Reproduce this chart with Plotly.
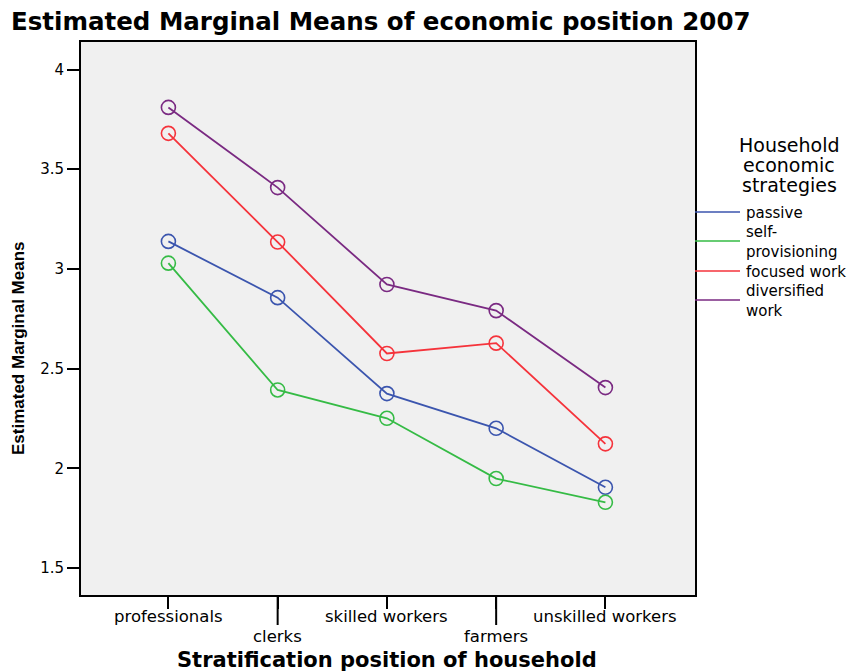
import plotly.graph_objects as go

categories = ["professionals", "clerks", "skilled workers", "farmers", "unskilled workers"]
passive = [3.138, 2.856, 2.375, 2.201, 1.905]
self_prov = [3.029, 2.393, 2.251, 1.949, 1.830]
focused = [3.680, 3.135, 2.576, 2.628, 2.123]
diversified = [3.810, 3.408, 2.922, 2.791, 2.405]
series_names = ["passive", "self-<br>provisioning", "focused work", "diversified<br>work"]
series_values = [passive, self_prov, focused, diversified]
colors = ["#3B55AE", "#35BB45", "#F5333B", "#7A2A82"]
y_ticks = [1.5, 2, 2.5, 3, 3.5, 4]
y_tick_text = ["1.5", "2", "2.5", "3", "3.5", "4"]
legend_title = ["Household", "economic", "strategies"]

FONT = "DejaVu Sans, Liberation Sans, Arial, sans-serif"
FONT_Y = "Liberation Sans Narrow, Arial Narrow, Liberation Sans, Arial, sans-serif"
x_idx = list(range(len(categories)))

W, H = 861, 672
ML, MR, MT, MB = 81, 166, 42, 77
plot_h = H - MT - MB
plot_w = W - ML - MR


def py(px):
    """pixel y (from top) -> paper y"""
    return (H - MB - px) / plot_h


def pxx(px):
    return (px - ML) / plot_w


fig = go.Figure()
for name, vals, col in zip(series_names, series_values, colors):
    fig.add_trace(go.Scatter(
        x=x_idx, y=vals, mode="lines+markers", name=name,
        line=dict(color=col, width=1.8),
        marker=dict(symbol="circle-open", size=14, color=col, line=dict(width=1.6, color=col)),
        showlegend=False,
    ))

fig.update_layout(
    width=W, height=H,
    margin=dict(l=ML, r=MR, t=MT, b=MB),
    paper_bgcolor="white", plot_bgcolor="#f0f0f0",
    font=dict(family=FONT, color="black", size=14),
    title=dict(text="<b>Estimated Marginal Means of economic position 2007</b>",
               x=11/W, xanchor="left", y=1-21/H, yanchor="middle",
               font=dict(size=24.5, family=FONT, color="black")),
)
fig.update_xaxes(
    range=[-0.8, 4.82], tickmode="array", tickvals=x_idx, showticklabels=False,
    ticks="outside", ticklen=12, tickwidth=2, tickcolor="black",
    showgrid=False, zeroline=False, showline=True, linecolor="black", linewidth=2,
    mirror=True,
)
fig.update_yaxes(
    range=[1.365, 4.138], tickmode="array", tickvals=y_ticks, ticktext=y_tick_text,
    ticks="outside", ticklen=12, tickwidth=1.5, tickcolor="black",
    showgrid=False, zeroline=False, showline=True, linecolor="black", linewidth=2,
    mirror=True, tickfont=dict(size=15, family=FONT),
)

# staggered category labels and long ticks
for i, cat in enumerate(categories):
    low = i % 2 == 1
    fig.add_annotation(text=cat, xref="x", yref="paper", x=i, y=py(636 if low else 616),
                       showarrow=False, xanchor="center", yanchor="middle",
                       font=dict(size=16.5, family=FONT))
    if low:
        fig.add_shape(type="line", xref="x", yref="paper", x0=i, x1=i,
                      y0=0, y1=py(625), line=dict(color="black", width=2))

# axis titles
fig.add_annotation(text="<b>Stratification position of household</b>", xref="paper", yref="paper",
                   x=pxx(387), y=py(660), showarrow=False,
                   xanchor="center", yanchor="middle", font=dict(size=21, family=FONT))
fig.add_annotation(text="<b>Estimated Marginal Means</b>", xref="paper", yref="paper",
                   x=pxx(18), y=py(348), showarrow=False, textangle=-90,
                   xanchor="center", yanchor="middle",
                   font=dict(size=17, family=FONT_Y))

# legend
for line, ty in zip(legend_title, [145, 165, 185]):
    fig.add_annotation(text=line, xref="paper", yref="paper",
                       x=pxx(789), y=py(ty), showarrow=False,
                       xanchor="center", yanchor="middle",
                       font=dict(size=19, family=FONT))
leg_line_y = [212, 241, 271, 300]
for name, col, ly in zip(series_names, colors, leg_line_y):
    fig.add_shape(type="line", xref="paper", yref="paper",
                  x0=1.0, x1=pxx(740), y0=py(ly), y1=py(ly),
                  line=dict(color=col, width=1.5))
    fig.add_annotation(text=name, xref="paper", yref="paper",
                       x=pxx(744), y=py(ly + 1), showarrow=False,
                       xanchor="left", yanchor="middle", align="left",
                       font=dict(size=15, family=FONT))

fig.write_html("out.html", config={"displayModeBar": False},
               post_script="document.body.style.margin='0px';")
